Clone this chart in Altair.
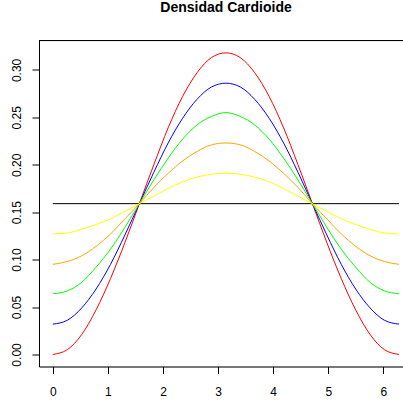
import altair as alt
import pandas as pd

theta = [0.0, 0.262, 0.524, 0.785, 1.047, 1.309, 1.571, 1.833, 2.094, 2.356, 2.618, 2.880,
         3.142, 3.403, 3.665, 3.927, 4.189, 4.451, 4.712, 4.974, 5.236, 5.498, 5.760, 6.021, 6.283]

red = [0.000, 0.005, 0.021, 0.047, 0.080, 0.118, 0.159, 0.200, 0.239, 0.272, 0.297, 0.313,
       0.318, 0.313, 0.297, 0.272, 0.239, 0.200, 0.159, 0.118, 0.080, 0.047, 0.021, 0.005, 0.000]
blue = [0.032, 0.036, 0.049, 0.069, 0.095, 0.126, 0.159, 0.192, 0.223, 0.249, 0.269, 0.282,
        0.286, 0.282, 0.269, 0.249, 0.223, 0.192, 0.159, 0.126, 0.095, 0.069, 0.049, 0.036, 0.032]
green = [0.064, 0.067, 0.076, 0.092, 0.111, 0.134, 0.159, 0.184, 0.207, 0.227, 0.242, 0.251,
         0.255, 0.251, 0.242, 0.227, 0.207, 0.184, 0.159, 0.134, 0.111, 0.092, 0.076, 0.067, 0.064]
orange = [0.095, 0.098, 0.104, 0.114, 0.127, 0.143, 0.159, 0.176, 0.191, 0.204, 0.214, 0.221,
          0.223, 0.221, 0.214, 0.204, 0.191, 0.176, 0.159, 0.143, 0.127, 0.114, 0.104, 0.098, 0.095]
yellow = [0.127, 0.128, 0.132, 0.137, 0.143, 0.151, 0.159, 0.167, 0.175, 0.182, 0.187, 0.190,
          0.191, 0.190, 0.187, 0.182, 0.175, 0.167, 0.159, 0.151, 0.143, 0.137, 0.132, 0.128, 0.127]
uniform_x = [0.0, 6.283]
uniform_y = [0.159, 0.159]

series_names = ["uniforme", "rho05", "rho04", "rho03", "rho02", "rho01"]
series_colors = ["#000000", "#FF0000", "#0000FF", "#00FF00", "#FFA500", "#FFFF00"]

rows = []
for x, y in zip(uniform_x, uniform_y):
    rows.append({"x": x, "y": y, "s": "uniforme", "o": 0})
for name, vals, o in [("rho05", red, 1), ("rho04", blue, 2), ("rho03", green, 3),
                      ("rho02", orange, 4), ("rho01", yellow, 5)]:
    for x, y in zip(theta, vals):
        rows.append({"x": x, "y": y, "s": name, "o": o})
df = pd.DataFrame(rows)

W, H = 364, 326
XDOM = [-0.251, 6.357]
YDOM = [-0.0127, 0.331]

lines = alt.Chart(df).mark_line(strokeWidth=1, interpolate="monotone", clip=True).encode(
    x=alt.X("x:Q", scale=alt.Scale(domain=XDOM, nice=False, zero=False),
            axis=alt.Axis(values=[0, 1, 2, 3, 4, 5, 6], format="d", title=None, grid=False,
                          tickSize=7, labelPadding=13, labelFontSize=12, labelFont="Liberation Sans",
                          labelColor="#000000", tickColor="#000000", domainColor="#000000",
                          labelFlush=False)),
    y=alt.Y("y:Q", scale=alt.Scale(domain=YDOM, nice=False, zero=False),
            axis=alt.Axis(values=[0, 0.05, 0.10, 0.15, 0.20, 0.25, 0.30], format=".2f", title=None,
                          grid=False, tickSize=7, labelPadding=9, labelFontSize=12,
                          labelFont="Liberation Sans", labelAngle=270, labelAlign="center",
                          labelBaseline="bottom", labelColor="#000000", tickColor="#000000",
                          domainColor="#000000", labelFlush=False)),
    color=alt.Color("s:N", scale=alt.Scale(domain=series_names, range=series_colors), legend=None),
    detail="s:N",
    order="o:Q",
)

top_rule = alt.Chart(pd.DataFrame({"y": [YDOM[1]]})).mark_rule(color="#000000", strokeWidth=1).encode(
    y=alt.Y("y:Q"),
    x=alt.value(0),
    x2=alt.value(W),
)

chart = alt.layer(lines, top_rule).properties(
    width=W, height=H,
    title=alt.TitleParams("Densidad Cardioide", font="Liberation Sans", fontSize=14,
                          fontWeight="bold", anchor="middle", dx=5, offset=25, color="#000000"),
    autosize=alt.AutoSizeParams(type="none"),
    padding={"left": 39, "top": 40.5, "right": 0, "bottom": 36},
).configure_view(stroke=None).configure(background="white")

chart.save("out.html", embed_options={"renderer": "svg", "actions": False})
